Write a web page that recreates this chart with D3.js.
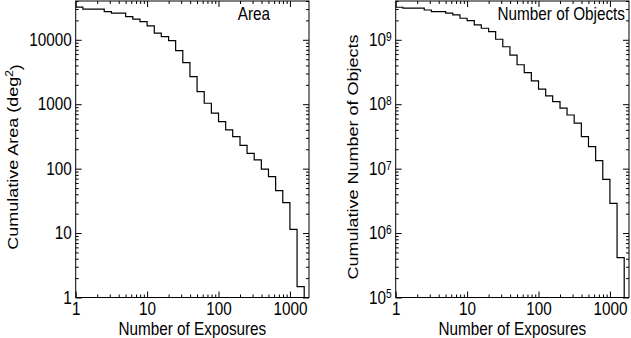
<!DOCTYPE html>
<html><head><meta charset="utf-8">
<script src="https://cdn.jsdelivr.net/npm/d3@7"></script>
<style>
html,body{margin:0;padding:0;background:#fff;}
svg{display:block;}
text{font-family:"Liberation Sans",Arial,Helvetica,sans-serif;fill:#000;}
</style></head>
<body>
<svg id="c" width="631" height="338"></svg>
<script>
// Bin edges (number of exposures) at which the cumulative steps change
const exposureEdges = [1, 1.26, 1.58, 2, 2.51, 3.16, 3.98, 5.01, 6.31, 7.94, 10, 12.6, 15.8, 20, 25.1, 31.6, 39.8, 50.1, 63.1, 79.4, 100, 126, 158, 200, 251, 316, 398, 501, 631, 794, 1000, 1259, 1585];
// Cumulative area (deg^2) in each bin
const cumulativeArea = [32100, 29900, 29900, 29900, 27400, 25900, 25900, 22900, 20900, 19200, 16400, 12700, 11200, 9700, 6800, 4430, 2680, 1570, 1036, 725, 535, 400, 314, 230, 173, 137, 98, 75, 45.5, 29.6, 11.4, 1.47];
// Cumulative number of objects in each bin
const cumulativeObjects = [3.2e9, 3.1e9, 3.1e9, 3.1e9, 2.9e9, 2.74e9, 2.74e9, 2.59e9, 2.44e9, 2.16e9, 1.99e9, 1.70e9, 1.51e9, 1.34e9, 1.02e9, 7.8e8, 5.8e8, 4.1e8, 3.1e8, 2.3e8, 1.71e8, 1.35e8, 1.10e8, 8.7e7, 6.8e7, 5.07e7, 3.14e7, 2.2e7, 1.33e7, 6.8e6, 2.9e6, 4.15e5];
const xTickLabels = [1, 10, 100, 1000];
const areaTickLabels = [1, 10, 100, 1000, 10000];
const objectTickExponents = [5, 6, 7, 8, 9];
const xDomain = [1, 1850];
const areaDomain = [1, 40000];
const objectDomain = [1e5, 4e9];

const svg = d3.select("#c");
const FS = 18;       // font size
const SX = 0.85;     // horizontal squeeze of glyphs
const plotTop = 1, plotBottom = 297.5;

function minorTicks(domain){
  const out=[];
  for(let e=Math.floor(Math.log10(domain[0])); e<=Math.ceil(Math.log10(domain[1])); e++){
    for(let m=1;m<=9;m++){
      const v=m*Math.pow(10,e);
      if(v>=domain[0]*0.9999 && v<=domain[1]*1.0001) out.push(v);
    }
  }
  return out;
}
function squeeze(sel, dyOverride){
  sel.each(function(){
    const t=d3.select(this);
    const x=+t.attr("x")||0, y=+t.attr("y")||0;
    t.attr("x",null).attr("y",null)
     .attr("transform",`translate(${x},${y}) scale(${SX},1)`)
     .style("font-size",FS+"px").attr("font-family",null);
    if(dyOverride!==undefined) t.attr("dy",dyOverride);
  });
}

function panel(opts){
  const W = 233.3, H = plotBottom - plotTop;
  const x = d3.scaleLog().domain(xDomain).range([opts.left, opts.left + W]);
  const y = d3.scaleLog().domain(opts.yDomain).range([plotBottom, plotTop]);
  const g = svg.append("g");
  const majX = xTickLabels, minX = minorTicks(xDomain).filter(v=>!majX.includes(v));
  const majY = opts.yMajor, minY = minorTicks(opts.yDomain).filter(v=>!majY.some(m=>Math.abs(m-v)/v<1e-6));
  const L=6, l=3;
  const bx = g.append("g").attr("transform",`translate(0,${plotBottom})`)
    .call(d3.axisBottom(x).tickValues(majX).tickSize(-L).tickPadding(17).tickFormat(d3.format("d")));
  bx.select(".domain").remove();
  squeeze(bx.selectAll("text"), "0");
  g.append("g").attr("transform",`translate(0,${plotBottom})`)
    .call(d3.axisBottom(x).tickValues(minX).tickSize(-l).tickFormat(""))
    .select(".domain").remove();
  g.append("g").attr("transform",`translate(0,${plotTop})`)
    .call(d3.axisTop(x).tickValues(majX).tickSize(-L).tickFormat(""))
    .select(".domain").remove();
  g.append("g").attr("transform",`translate(0,${plotTop})`)
    .call(d3.axisTop(x).tickValues(minX).tickSize(-l).tickFormat(""))
    .select(".domain").remove();
  const ly = g.append("g").attr("transform",`translate(${opts.left},0)`)
    .call(d3.axisLeft(y).tickValues(majY).tickSize(-L).tickPadding(opts.labelPad).tickFormat(d3.format("d")));
  ly.select(".domain").remove();
  if(opts.sup){
    ly.selectAll("text").each(function(d){
      const t=d3.select(this); t.text("");
      t.append("tspan").text("10");
      t.append("tspan").attr("dy","-0.45em").style("font-size","12px").text(Math.round(Math.log10(d)));
    });
  }
  squeeze(ly.selectAll("text"));
  g.append("g").attr("transform",`translate(${opts.left},0)`)
    .call(d3.axisLeft(y).tickValues(minY).tickSize(-l).tickFormat(""))
    .select(".domain").remove();
  g.append("g").attr("transform",`translate(${opts.left+W},0)`)
    .call(d3.axisRight(y).tickValues(majY).tickSize(-L).tickFormat(""))
    .select(".domain").remove();
  g.append("g").attr("transform",`translate(${opts.left+W},0)`)
    .call(d3.axisRight(y).tickValues(minY).tickSize(-l).tickFormat(""))
    .select(".domain").remove();
  g.selectAll(".tick line").attr("stroke","#000").attr("stroke-width",1);
  g.append("rect").attr("x",opts.left).attr("y",plotTop).attr("width",W).attr("height",H)
    .attr("fill","none").attr("stroke","#000").attr("stroke-width",1);
  const pts=[];
  opts.values.forEach((v,i)=>{
    pts.push([x(exposureEdges[i]), y(v)]);
    pts.push([x(exposureEdges[i+1]), y(v)]);
  });
  pts.push([x(exposureEdges[exposureEdges.length-1]), y(opts.yDomain[0])]);
  g.append("path").attr("d", d3.line()(pts)).attr("fill","none")
    .attr("stroke","#000").attr("stroke-width",1.2);
  g.append("text").attr("transform",`translate(${opts.left+W/2},334.5) scale(${SX},1)`).attr("text-anchor","middle")
    .style("font-size",FS+"px").text("Number of Exposures");
  const yt = g.append("text").attr("transform",`translate(${opts.ytX},157) scale(${SX},1) rotate(-90)`)
    .attr("text-anchor","middle").style("font-size",FS+"px");
  opts.ytitle(yt);
  g.append("text").attr("transform",`translate(${opts.labelX},20) scale(${SX},1)`).attr("text-anchor","end")
    .style("font-size",FS+"px").text(opts.label);
}

panel({left:75.7, yDomain:areaDomain, yMajor:areaTickLabels, values:cumulativeArea,
  labelPad:4, sup:false, ytX:18, label:"Area", labelX:270,
  ytitle:t=>{t.append("tspan").text("Cumulative Area (deg");
    t.append("tspan").attr("dy","-0.5em").style("font-size","12px").text("2");
    t.append("tspan").attr("dy","0.5em").text(")");}});
panel({left:395.7, yDomain:objectDomain, yMajor:objectTickExponents.map(e=>Math.pow(10,e)), values:cumulativeObjects,
  labelPad:4, sup:true, ytX:358, label:"Number of Objects", labelX:625,
  ytitle:t=>t.text("Cumulative Number of Objects")});
</script>
</body></html>
